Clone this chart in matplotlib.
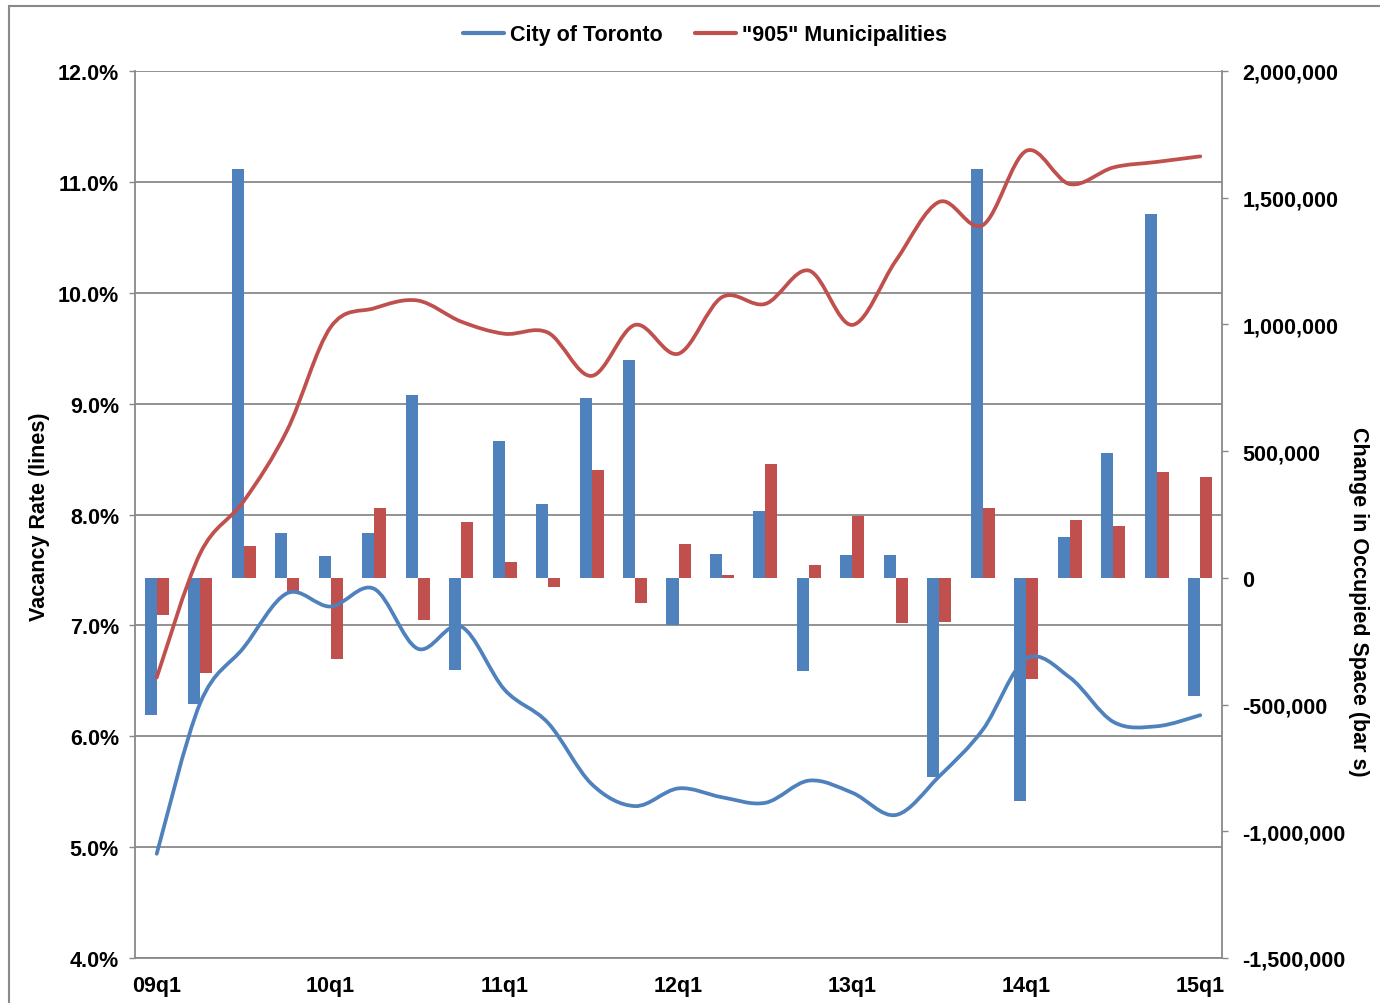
import numpy as np
import matplotlib
matplotlib.use("Agg")
import matplotlib.pyplot as plt
from matplotlib.path import Path
from matplotlib.patches import PathPatch, Rectangle
from matplotlib.lines import Line2D
from matplotlib.ticker import FuncFormatter

# quarters 09q1 .. 15q1
quarters = ['09q1', '09q2', '09q3', '09q4', '10q1', '10q2', '10q3', '10q4',
            '11q1', '11q2', '11q3', '11q4', '12q1', '12q2', '12q3', '12q4',
            '13q1', '13q2', '13q3', '13q4', '14q1', '14q2', '14q3', '14q4',
            '15q1']

# vacancy rate (%), left axis, lines
toronto_rate = [4.94, 6.30, 6.80, 7.29, 7.17, 7.33, 6.79, 6.99, 6.42, 6.12,
                5.57, 5.37, 5.53, 5.45, 5.40, 5.60, 5.49, 5.29, 5.64, 6.06,
                6.70, 6.53, 6.13, 6.09, 6.19]
gta905_rate = [6.53, 7.65, 8.12, 8.76, 9.69, 9.86, 9.93, 9.74, 9.63, 9.64,
               9.25, 9.71, 9.45, 9.96, 9.90, 10.20, 9.71, 10.29, 10.82, 10.61,
               11.28, 10.98, 11.13, 11.18, 11.23]

# change in occupied space (sq ft), right axis, bars
toronto_chg = [-540000, -497000, 1614000, 177000, 85000, 178000, 720000, -365000,
               540000, 293000, 708000, 858000, -186000, 96000, 264000, -366000,
               89000, 89000, -786000, 1615000, -882000, 163000, 493000, 1436000,
               -465000]
gta905_chg = [-148000, -376000, 125000, -54000, -322000, 276000, -167000, 222000,
              61000, -35000, 426000, -100000, 134000, 12000, 450000, 50000,
              245000, -177000, -174000, 276000, -400000, 230000, 206000, 416000,
              398000]

blue = '#4F81BD'
red = '#C0504D'
grey = '#898989'

plt.rcParams['font.family'] = ['Liberation Sans', 'DejaVu Sans']
plt.rcParams['font.weight'] = 'bold'
fs = 15.5


def smooth_path(xs, ys):
    # excel-like smoothed line: cubic bezier through every point
    pts = np.column_stack([xs, ys]).astype(float)
    n = len(pts)
    verts = [pts[0]]
    codes = [Path.MOVETO]
    for i in range(n - 1):
        p_prev = pts[max(i - 1, 0)]
        p0 = pts[i]
        p1 = pts[i + 1]
        p_next = pts[min(i + 2, n - 1)]
        c1 = p0 + (p1 - p_prev) / 6.0
        c2 = p1 - (p_next - p0) / 6.0
        verts += [c1, c2, p1]
        codes += [Path.CURVE4] * 3
    return Path(verts, codes)


fig = plt.figure(figsize=(13.8, 10.04), dpi=100)
W, H = 1380, 1004
ax = fig.add_axes([135 / W, 1 - 959 / H, (1222 - 135) / W, (959 - 72) / H])

x = np.arange(len(quarters))

# left axis: grid + ticks
ax.set_xlim(-0.5, len(quarters) - 0.5)
ax.set_ylim(4, 12)
ax.set_yticks(np.arange(4, 12.01, 1))
ax.yaxis.set_major_formatter(FuncFormatter(lambda v, p: '%.1f%%' % v))
ax.grid(axis='y', color=grey, lw=1.3)
ax.set_axisbelow(True)
ax.set_xticks(x[::4])
ax.set_xticklabels(quarters[::4])
ax.tick_params(axis='x', length=0, pad=12, labelsize=fs)
ax.tick_params(axis='y', direction='out', length=4.5, width=1, color=grey,
               pad=7, labelsize=fs)
for s in ['top', 'right']:
    ax.spines[s].set_visible(False)
for s in ['left', 'bottom']:
    ax.spines[s].set_color(grey)
    ax.spines[s].set_linewidth(1.3)

# right axis: bars
ax2 = ax.twinx()
ax2.set_ylim(-1500000, 2000000)
ax2.set_yticks(np.arange(-1500000, 2000001, 500000))
ax2.yaxis.set_major_formatter(FuncFormatter(lambda v, p: '{:,.0f}'.format(v)))
ax2.tick_params(axis='y', direction='out', length=4.5, width=1, color=grey,
                pad=10, labelsize=fs)
bw = 0.276
ax2.bar(x - bw / 2, toronto_chg, width=bw, color=blue, edgecolor='none')
ax2.bar(x + bw / 2, gta905_chg, width=bw, color=red, edgecolor='none')
for s in ['top', 'left', 'bottom']:
    ax2.spines[s].set_visible(False)
ax2.spines['right'].set_color(grey)
ax2.spines['right'].set_linewidth(1.3)

# lines on top of bars, same scale as left axis
ax3 = ax.twinx()
ax3.set_ylim(4, 12)
ax3.axis('off')
for vals, col in [(toronto_rate, blue), (gta905_rate, red)]:
    ax3.add_patch(PathPatch(smooth_path(x, vals), fill=False, edgecolor=col,
                            lw=2.7, capstyle='round', joinstyle='round'))

# axis titles
fig.text(40 / W, 1 - 517 / H, 'Vacancy Rate (lines)', rotation=90,
         ha='center', va='center', fontsize=fs)
fig.text(1358 / W, 1 - 602 / H, 'Change in Occupied Space (bar s)', rotation=270,
         ha='center', va='center', fontsize=fs)

# legend
handles = [Line2D([], [], color=blue, lw=3, solid_capstyle='round'),
           Line2D([], [], color=red, lw=3, solid_capstyle='round')]
fig.legend(handles, ['City of Toronto', '"905" Municipalities'], loc='center',
           bbox_to_anchor=(705 / W, 1 - 36 / H), ncol=2, frameon=False,
           fontsize=fs, handlelength=1.9, handletextpad=0.3,
           columnspacing=1.5)

# chart border
fig.add_artist(Rectangle((8.5 / W, -0.05), 1.2, 1.05 - 6.5 / H, fill=False,
                         edgecolor=grey, lw=1.5, transform=fig.transFigure))

fig.savefig('out.png', dpi=100)
